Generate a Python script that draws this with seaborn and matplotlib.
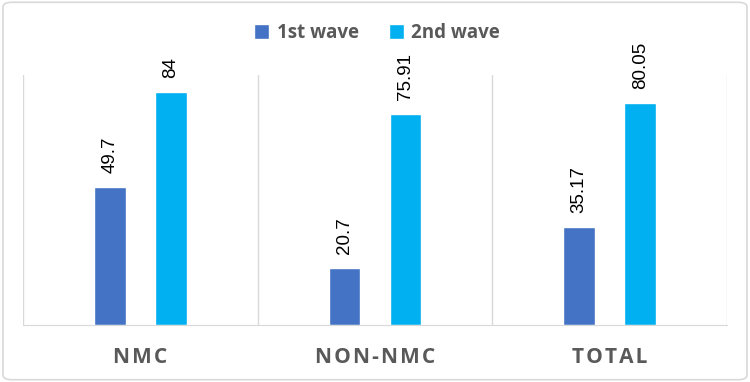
import pandas as pd
import seaborn as sns
import matplotlib.pyplot as plt
from matplotlib.patches import FancyBboxPatch

categories = ['NMC', 'NON-NMC', 'TOTAL']
first_wave = [49.7, 20.7, 35.17]
second_wave = [84, 75.91, 80.05]
first_labels = ['49.7', '20.7', '35.17']
second_labels = ['84', '75.91', '80.05']
series = ['1st wave', '2nd wave']

df = pd.DataFrame({
    'cat': categories * 2,
    'val': first_wave + second_wave,
    'wave': [series[0]] * 3 + [series[1]] * 3,
})

sns.set_style('white')
plt.rcParams['font.family'] = ['Open Sans', 'DejaVu Sans']

fig = plt.figure(figsize=(7.5, 3.82), dpi=100)
ax = fig.add_axes([23 / 750, 57 / 382, 704 / 750, 250 / 382])

sns.barplot(data=df, x='cat', y='val', hue='wave', order=categories,
            palette=['#4472C4', '#00B0F0'], width=0.52, gap=0.477,
            saturation=1, ax=ax, legend=True)

for cont, labs in zip(ax.containers, [first_labels, second_labels]):
    ax.bar_label(cont, labels=labs, rotation=90, padding=10, fontsize=13.5,
                 family='Liberation Sans', color='black')

ax.set_ylim(0, 90)
ax.set_xlim(-0.5, 2.5)
ax.set_yticks([])
ax.set_xlabel('')
ax.set_ylabel('')
for x in [-0.5, 0.5, 1.5, 2.5]:
    ax.axvline(x, color='#d9d9d9', lw=1, zorder=0)
for s in ['top', 'left', 'right']:
    ax.spines[s].set_visible(False)
ax.spines['bottom'].set_color('#d9d9d9')
ax.tick_params(axis='x', length=0, pad=16)
ax.set_xticks(range(3))
ax.set_xticklabels(['\u200a'.join(c) for c in categories], fontsize=15,
                   fontweight='bold', color='#595959')

ax.legend(loc='center', ncol=2, frameon=False, handlelength=0.8, handleheight=0.8,
          handletextpad=0.4, columnspacing=1.6,
          prop={'family': ['Open Sans', 'DejaVu Sans'], 'weight': 'bold', 'size': 13.5})
leg = ax.get_legend()
leg.set_bbox_to_anchor((0.503, 1 - 33 / 382), transform=fig.transFigure)
for t in leg.get_texts():
    t.set_color('#595959')

fig.patches.append(FancyBboxPatch((0.004, 0.006), 0.992, 0.988,
                                  boxstyle='round,pad=0,rounding_size=0.012',
                                  transform=fig.transFigure, fill=False,
                                  edgecolor='#d9d9d9', lw=1.2))

fig.savefig('out.png', dpi=100)
